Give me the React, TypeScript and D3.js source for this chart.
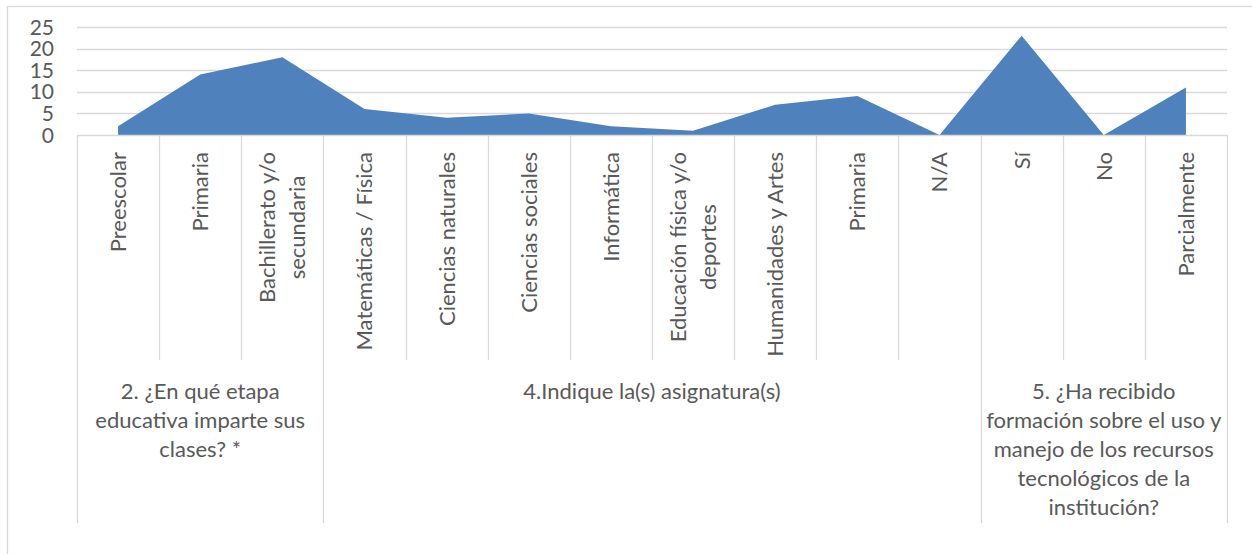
import React, { useEffect, useRef } from "react";
import * as d3 from "d3";

const categories = [
  "Preescolar",
  "Primaria",
  "Bachillerato y/o\nsecundaria",
  "Matemáticas / Física",
  "Ciencias naturales",
  "Ciencias sociales",
  "Informática",
  "Educación física y/o\ndeportes",
  "Humanidades y Artes",
  "Primaria",
  "N/A",
  "Sí",
  "No",
  "Parcialmente",
];
const values = [2, 14, 18, 6, 4, 5, 2, 1, 7, 9, 0, 23, 0, 11];
const groups = [
  "2. ¿En qué etapa\neducativa imparte sus\nclases? *",
  "4.Indique la(s) asignatura(s)",
  "5. ¿Ha recibido\nformación sobre el uso y\nmanejo de los recursos\ntecnológicos de la\ninstitución?",
];
const groupSizes = [3, 8, 3];
const yTicks = [0, 5, 10, 15, 20, 25];

const W = 1252;
const H = 554;
const FONT = "Lato, 'Open Sans', sans-serif";
const TXT = "#595959";
const GRID = "#d9d9d9";
const FILL = "#4f81bd";

export default function App() {
  const ref = useRef<SVGSVGElement | null>(null);

  useEffect(() => {
    document.body.style.margin = "0";
    const svg = d3.select(ref.current!);
    svg.selectAll("*").remove();

    const left = 77, right = 1227, top = 27, base = 135;
    const x = d3.scaleBand<number>().domain(d3.range(categories.length)).range([left, right]).padding(0);
    const bw = x.bandwidth();
    const y = d3.scaleLinear().domain([0, 25]).range([base, top]);

    // outer border
    svg.append("rect").attr("x", 7.5).attr("y", 6.5).attr("width", 1300).attr("height", 600)
      .attr("fill", "white").attr("stroke", GRID).attr("stroke-width", 1.3);

    // gridlines
    svg.append("g").selectAll("line").data(yTicks.filter((t) => t > 0)).join("line")
      .attr("x1", left).attr("x2", right)
      .attr("y1", (d) => Math.round(y(d)) + 0.5).attr("y2", (d) => Math.round(y(d)) + 0.5)
      .attr("stroke", GRID).attr("stroke-width", 1.3);

    // area
    const area = d3.area<number>()
      .x((_, i) => x(i)! + bw / 2)
      .y0(y(0))
      .y1((d) => y(d));
    svg.append("path").datum(values).attr("d", area).attr("fill", FILL);

    // axis line
    svg.append("line").attr("x1", left).attr("x2", right).attr("y1", base + 0.5).attr("y2", base + 0.5)
      .attr("stroke", GRID).attr("stroke-width", 1.3);

    // y labels
    svg.append("g").selectAll("text").data(yTicks).join("text")
      .attr("x", 54).attr("y", (d) => y(d)).attr("dy", "0.36em")
      .attr("text-anchor", "end").attr("font-family", FONT).attr("font-size", 21)
      .attr("fill", TXT).text((d) => String(d));

    // separators
    const groupBounds = new Set<number>();
    let acc = 0;
    groupBounds.add(0);
    groupSizes.forEach((s) => { acc += s; groupBounds.add(acc); });
    for (let i = 0; i <= categories.length; i++) {
      const bx = left + i * bw;
      svg.append("line").attr("x1", Math.round(bx) + 0.5).attr("x2", Math.round(bx) + 0.5)
        .attr("y1", base).attr("y2", groupBounds.has(i) ? 523 : 360)
        .attr("stroke", GRID).attr("stroke-width", 1.3);
    }

    // category labels (rotated)
    const lh = 30;
    categories.forEach((c, i) => {
      const lines = c.split("\n");
      const g = svg.append("g").attr("font-family", FONT).attr("font-size", 22).attr("fill", TXT);
      const texts = lines.map((l) => g.append("text").attr("text-anchor", "middle").attr("dy", "0.36em").text(l));
      const maxW = d3.max(texts, (t) => (t.node() as SVGTextElement).getComputedTextLength()) || 0;
      const cx = x(i)! + bw / 2;
      g.attr("transform", `translate(${cx},${152 + maxW / 2}) rotate(-90)`);
      texts.forEach((t, j) => t.attr("y", (j - (lines.length - 1) / 2) * lh));
    });

    // group labels
    let start = 0;
    groups.forEach((gname, gi) => {
      const n = groupSizes[gi];
      const cx = left + (start + n / 2) * bw;
      start += n;
      const lines = gname.split("\n");
      const g = svg.append("g").attr("font-family", FONT).attr("font-size", 22).attr("fill", TXT)
        .attr("text-anchor", "middle");
      lines.forEach((l, j) => {
        g.append("text").attr("x", cx).attr("y", 399 + j * 29).text(l);
      });
    });
  }, []);

  return <svg ref={ref} width={W} height={H} style={{ display: "block" }} />;
}
